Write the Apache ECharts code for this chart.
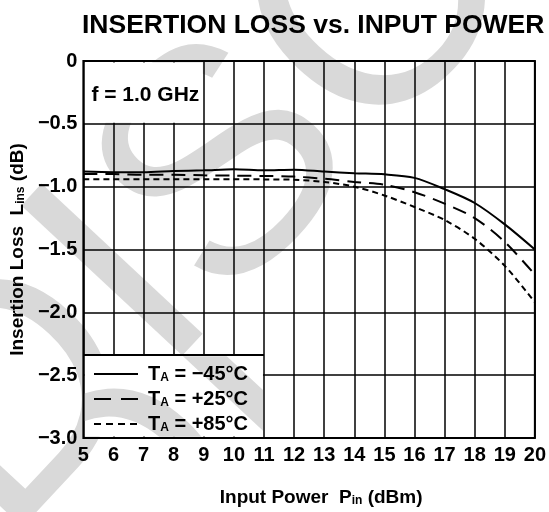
<!DOCTYPE html>
<html><head><meta charset="utf-8">
<script src="https://cdn.jsdelivr.net/npm/echarts@6/dist/echarts.min.js"></script>
<style>html,body{margin:0;padding:0;background:#fff}#c{width:549px;height:512px}</style>
</head><body><div id="c"></div>
<script>
// ---- data ----
const powerIn = [5,6,7,8,9,10,11,12,13,14,15,16,17,18,19,20];
const lossTm45 = [-0.88,-0.885,-0.885,-0.875,-0.87,-0.862,-0.87,-0.865,-0.88,-0.893,-0.902,-0.93,-1.02,-1.13,-1.30,-1.50];
const lossTp25 = [-0.90,-0.90,-0.905,-0.905,-0.91,-0.912,-0.915,-0.92,-0.937,-0.962,-0.985,-1.044,-1.135,-1.25,-1.44,-1.70];
const lossTp85 = [-0.94,-0.94,-0.94,-0.94,-0.94,-0.94,-0.942,-0.945,-0.962,-1.0,-1.07,-1.162,-1.265,-1.415,-1.63,-1.92];
const seriesNames = ['T_A = −45°C','T_A = +25°C','T_A = +85°C'];
const xMin = 5, xMax = 20, xStep = 1;
const yMin = -3, yMax = 0, yStep = 0.5;

const FONT = '"Liberation Sans", Arial, Helvetica, sans-serif';
const pairs = (ys) => powerIn.map((x,i)=>[x, ys[i]]);
const richName = (n) => { const p = n.split('_'); return '{t|' + p[0] + '}{s|' + p[1].charAt(0) + '}{t|' + p[1].slice(1) + '}'; };

const chart = echarts.init(document.getElementById('c'), null, {renderer:'canvas'});
const option = {
  backgroundColor: '#fff',
  animation: false,
  title: {
    text: 'INSERTION LOSS vs. INPUT POWER',
    left: 82, top: 12, padding: 0,
    textStyle: {fontFamily: FONT, fontSize: 26.5, fontWeight: 'bold', color: '#000'}
  },
  grid: {left: 82, right: 14, top: 61, bottom: 74, show: true, borderColor: '#000', borderWidth: 2, backgroundColor: 'transparent'},
  xAxis: {
    type: 'value', min: xMin, max: xMax, interval: xStep,
    axisLine: {show: false}, axisTick: {show: false},
    splitLine: {show: true, lineStyle: {color: '#000', width: 1.5}},
    axisLabel: {color: '#000', fontFamily: FONT, fontSize: 20, fontWeight: 'bold', margin: 7},
    name: '{a|Input Power  P}{s|in}{a| (dBm)}',
    nameLocation: 'middle', nameGap: 49,
    nameTextStyle: {padding: [0,0,0,24], rich: {
      a: {fontFamily: FONT, fontSize: 19, fontWeight: 'bold', color: '#000', lineHeight: 20, verticalAlign: 'bottom'},
      s: {fontFamily: FONT, fontSize: 12, fontWeight: 'bold', color: '#000', lineHeight: 14, verticalAlign: 'bottom'}
    }}
  },
  yAxis: {
    type: 'value', min: yMin, max: yMax, interval: yStep,
    axisLine: {show: false}, axisTick: {show: false},
    splitLine: {show: true, lineStyle: {color: '#000', width: 1.5}},
    axisLabel: {color: '#000', fontFamily: FONT, fontSize: 20, fontWeight: 'bold', margin: 6,
      formatter: (v) => v === 0 ? '0' : '−' + Math.abs(v).toFixed(1)},
    name: '{a|Insertion Loss  L}{s|ins}{a| (dB)}',
    nameLocation: 'middle', nameGap: 55,
    nameTextStyle: {rich: {
      a: {fontFamily: FONT, fontSize: 19, fontWeight: 'bold', color: '#000', lineHeight: 20, verticalAlign: 'bottom'},
      s: {fontFamily: FONT, fontSize: 12, fontWeight: 'bold', color: '#000', lineHeight: 14, verticalAlign: 'bottom'}
    }}
  },
  legend: {
    orient: 'vertical', left: 93, top: 364, padding: 0,
    itemWidth: 44, itemHeight: 14, itemGap: 5,
    itemStyle: {opacity: 0},
    data: [
      {name: seriesNames[0], lineStyle: {type: 'solid', width: 2, color: '#000'}},
      {name: seriesNames[1], lineStyle: {type: [17,10], width: 2, color: '#000'}},
      {name: seriesNames[2], lineStyle: {type: [7,5], width: 2, color: '#000'}}
    ],
    formatter: richName,
    textStyle: {padding: [0,0,0,5], rich: {
      t: {fontFamily: FONT, fontSize: 20, fontWeight: 'bold', color: '#000', lineHeight: 20, verticalAlign: 'bottom'},
      s: {fontFamily: FONT, fontSize: 12, fontWeight: 'bold', color: '#000', lineHeight: 15, verticalAlign: 'bottom'}
    }}
  },
  series: [
    {name: seriesNames[0], type: 'line', data: pairs(lossTm45), smooth: 0.3, symbol: 'none', lineStyle: {color: '#000', width: 2, type: 'solid'}, itemStyle: {color: '#000'}},
    {name: seriesNames[1], type: 'line', data: pairs(lossTp25), smooth: 0.3, symbol: 'none', lineStyle: {color: '#000', width: 2, type: [14,8]}, itemStyle: {color: '#000'}},
    {name: seriesNames[2], type: 'line', data: pairs(lossTp85), smooth: 0.3, symbol: 'none', lineStyle: {color: '#000', width: 2, type: [6,4]}, itemStyle: {color: '#000'}}
  ]
};
chart.setOption(option);

const px = (x, y) => chart.convertToPixel({gridIndex: 0}, [x, y]);
const [fx0, fy0] = px(5, 0), [fx1, fy1] = px(9, -0.5);
const [lx0, ly0] = px(5, -2.34), [lx1, ly1] = px(11, -3);
const boxF = {x: fx0 + 1.5, y: fy0 + 1.5, width: fx1 - fx0 - 2.5, height: fy1 - fy0 - 2.5};
const boxL = {x: lx0 + 1.5, y: ly0 + 1.2, width: lx1 - lx0 - 2.5, height: ly1 - ly0 - 2.5};

// watermark
const WM = {text: 'DISCONTINUED', font: '320px ' + FONT, fill: '#d9d9d9', textAlign: 'left', textVerticalAlign: 'middle'};
const WM_POS = {x: -60, y: 486, rotation: 47 * Math.PI / 180};

chart.setOption({graphic: [
  {type: 'text', z: -1, silent: true, x: WM_POS.x, y: WM_POS.y, rotation: WM_POS.rotation, style: WM},
  {type: 'rect', z: 1, shape: boxF, style: {fill: '#fff'}},
  {type: 'rect', z: 1, shape: {x: lx0 + 1.5, y: ly0, width: lx1 - lx0 - 2.5, height: ly1 - ly0 - 1.5}, style: {fill: '#fff'}},
  {type: 'line', z: 1, shape: {x1: lx0, y1: ly0, x2: lx1, y2: ly0}, style: {stroke: '#000', lineWidth: 2}},
  {type: 'text', z: 5, x: fx0 + 8, y: fy0 + 34, style: {text: 'f = 1.0 GHz', font: 'bold 21px ' + FONT, fill: '#000', textVerticalAlign: 'middle'}}
]});

// watermark re-drawn inside the two white boxes (clipped), under legend/text
const zr = chart.getZr();
[boxF, boxL].forEach(b => {
  const g = new echarts.graphic.Group();
  g.setClipPath(new echarts.graphic.Rect({shape: b}));
  const t = new echarts.graphic.Text({x: WM_POS.x, y: WM_POS.y, rotation: WM_POS.rotation, style: Object.assign({}, WM), z: 3, silent: true});
  g.add(t);
  zr.add(g);
});
</script></body></html>
